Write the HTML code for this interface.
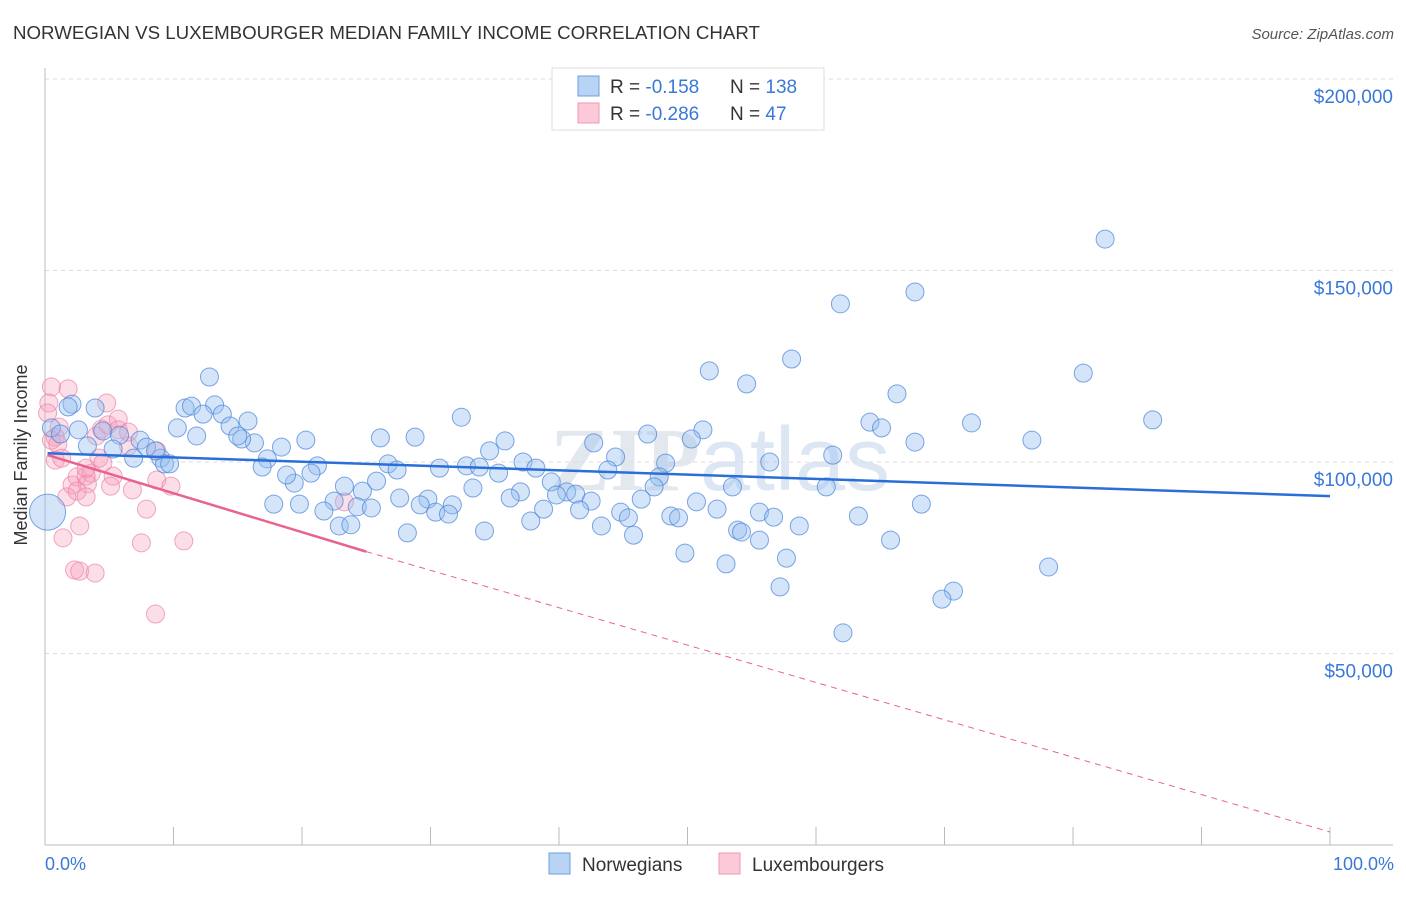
<!DOCTYPE html>
<html><head><meta charset="utf-8"><style>
body{margin:0;background:#fff;font-family:"Liberation Sans",sans-serif;}
</style></head><body>
<svg id="chart" width="1406" height="892" xmlns="http://www.w3.org/2000/svg">
<text x="13" y="39" font-size="18.7" fill="#333">NORWEGIAN VS LUXEMBOURGER MEDIAN FAMILY INCOME CORRELATION CHART</text>
<text x="1394" y="39" font-size="15" fill="#555" font-style="italic" text-anchor="end">Source: ZipAtlas.com</text>
<text x="720" y="490" font-size="90" fill="#e3e8ee" text-anchor="middle" font-weight="bold" font-family="Liberation Serif,serif">ZIP<tspan font-family="Liberation Sans,sans-serif" font-weight="normal" fill="#dde6f3">atlas</tspan></text>
<g id="grid"></g>
<g id="axes"></g>
<g id="pts"></g>
<g id="trend"></g>
<text x="27" y="455" font-size="18" fill="#333" text-anchor="middle" transform="rotate(-90 27 455)">Median Family Income</text>
<text x="45" y="870" font-size="18" fill="#3a78d8">0.0%</text>
<text x="1394" y="870" font-size="18" fill="#3a78d8" text-anchor="end">100.0%</text>
<g>
<rect x="552" y="68" width="272" height="62" fill="#fff" stroke="#ddd"/>
<rect x="578" y="76" width="21" height="20" fill="#b9d3f5" stroke="#6d9fe0"/>
<rect x="578" y="103" width="21" height="20" fill="#fbc9d8" stroke="#ef9ab5"/>
<text x="610" y="93" font-size="19" fill="#333">R = <tspan fill="#3a78d8"> -0.158</tspan><tspan x="730">N = </tspan><tspan fill="#3a78d8">138</tspan></text>
<text x="610" y="120" font-size="19" fill="#333">R = <tspan fill="#3a78d8">-0.286</tspan><tspan x="730">N = </tspan><tspan fill="#3a78d8"> 47</tspan></text>
</g>
<g>
<rect x="549" y="853" width="21" height="21" fill="#b9d3f5" stroke="#6d9fe0"/>
<text x="582" y="871" font-size="19" fill="#333">Norwegians</text>
<rect x="719" y="853" width="21" height="21" fill="#fbc9d8" stroke="#ef9ab5"/>
<text x="752" y="871" font-size="19" fill="#333">Luxembourgers</text>
</g>
</svg>
<script>
const yTicks=[50000,100000,150000,200000];
const yTickLabels=["$50,000","$100,000","$150,000","$200,000"];
const xTicks=[0,10,20,30,40,50,60,70,80,90,100];
const blueX=[82.5,61.9,67.7,58.1,51.7,54.6,80.8,66.3,86.2,72.1,64.2,65.1,67.7,76.8,51.2,46.9,50.3,42.7,32.4,28.8,26.1,20.3,18.4,16.3,15.3,12.8,10.9,11.4,13.2,12.3,13.8,15.8,14.4,10.3,11.8,15.0,3.9,2.1,1.8,0.5,1.2,2.6,4.5,5.8,7.4,7.9,3.3,5.3,6.9,9.0,9.3,9.7,8.6,17.3,16.9,21.2,26.7,27.4,30.7,32.8,33.8,35.3,34.6,35.8,37.2,38.2,44.4,43.8,48.3,47.8,56.4,61.3,60.8,53.5,47.4,46.4,39.4,40.6,41.3,39.8,42.5,37.0,36.2,33.3,31.7,29.8,27.6,25.8,24.7,23.3,22.5,19.4,18.8,20.7,17.8,19.8,21.7,24.3,25.4,22.9,23.8,29.2,30.4,31.4,28.2,34.2,37.8,38.8,41.6,43.3,44.8,45.4,45.8,48.7,49.3,50.7,52.3,53.9,54.2,55.6,56.7,58.7,55.6,49.8,53.0,57.7,57.2,63.3,68.2,65.8,70.7,69.8,62.1,78.1];
const blueY=[158.2,141.3,144.4,126.9,123.8,120.4,123.2,117.8,111.0,110.2,110.4,108.9,105.2,105.7,108.4,107.3,106.0,105.0,111.7,106.5,106.3,105.7,103.9,105.0,106.0,122.2,114.1,114.6,114.9,112.5,112.5,110.7,109.4,108.9,106.8,106.8,114.1,115.1,114.4,108.9,107.3,108.4,108.1,107.0,105.7,103.9,104.2,103.4,101.0,101.0,99.5,99.5,102.9,100.8,98.7,99.0,99.5,97.9,98.4,99.0,98.7,97.1,102.9,105.5,100.0,98.4,101.3,97.9,99.7,96.1,100.0,101.8,93.5,93.5,93.5,90.3,94.8,92.2,91.6,91.4,89.8,92.2,90.6,93.2,88.8,90.3,90.6,95.0,92.4,93.7,89.8,94.5,96.6,97.1,89.0,89.0,87.2,88.3,88.0,83.3,83.6,88.8,86.9,86.4,81.5,82.0,84.6,87.7,87.5,83.3,86.9,85.4,80.9,85.9,85.4,89.6,87.7,82.2,81.7,86.9,85.6,83.3,79.6,76.2,73.4,74.9,67.4,85.9,89.0,79.6,66.3,64.2,55.4,72.6];
const pinkX=[0.5,1.8,0.3,0.2,1.1,0.8,0.5,1.0,0.8,1.3,2.1,2.5,3.6,3.2,3.3,4.0,4.4,4.9,4.8,5.7,5.7,6.5,6.5,4.2,4.5,3.2,5.3,1.7,2.5,3.2,5.1,6.8,8.7,9.8,7.9,2.7,1.4,7.5,10.8,2.3,2.7,3.9,8.6,23.3,8.7];
const pinkY=[119.6,119.1,115.4,112.8,109.1,106.5,105.7,104.7,100.5,101.0,94.0,96.1,97.1,96.3,94.3,106.8,108.6,109.7,115.4,111.2,108.4,107.8,104.2,101.0,99.7,98.4,96.3,90.9,92.4,90.9,93.7,92.7,95.3,93.7,87.7,83.3,80.2,78.9,79.4,71.8,71.5,71.0,60.3,89.6,102.9];
const blueTrend=[102.3,91.1];
const pinkTrend=[101.8,76.6,3.4];
const L=45,R=1330,B=845,T=79;
const xs=p=>L+(R-L)*p/100;
const ys=v=>B-(B-T)*v/200000;
const NS="http://www.w3.org/2000/svg";
function mk(tag,parent,attrs){const e=document.createElementNS(NS,tag);for(const k in attrs)e.setAttribute(k,attrs[k]);parent.appendChild(e);return e;}
const grid=document.getElementById('grid'),axes=document.getElementById('axes'),pts=document.getElementById('pts'),trend=document.getElementById('trend');
yTicks.forEach((v,i)=>{
 const l=mk('line',grid,{x1:L,x2:1393,y1:ys(v),y2:ys(v),stroke:'#ddd','stroke-dasharray':'4,4'});
 
 
 const t=mk('text',axes,{x:1393,y:ys(v)+24,'font-size':19,fill:'#3a78d8','text-anchor':'end'});
 t.textContent=yTickLabels[i];
 
 
});
const ax=mk('line',axes,{x1:L,x2:1393,y1:B,y2:B,stroke:'#bbb'});


const ay=mk('line',axes,{x1:L,x2:L,y1:68,y2:B,stroke:'#bbb'});


xTicks.forEach(p=>{
 const t=mk('line',axes,{x1:xs(p),x2:xs(p),y1:B-18,y2:B,stroke:'#bbb'});
 
 
});
pinkX.forEach((x,i)=>{
 const c=mk('circle',pts,{cx:xs(x),cy:ys(pinkY[i]*1000),r:9,fill:'rgba(245,160,190,0.35)',stroke:'rgba(236,130,165,0.7)','stroke-width':1});
 
 
});
blueX.forEach((x,i)=>{
 const c=mk('circle',pts,{cx:xs(x),cy:ys(blueY[i]*1000),r:9,fill:'rgba(150,190,240,0.4)',stroke:'rgba(70,130,215,0.7)','stroke-width':1});
 
 
});
const big=mk('circle',pts,{cx:xs(0.2),cy:ys(86900),r:18,fill:'rgba(150,190,240,0.4)',stroke:'rgba(70,130,215,0.7)'});


const bl=mk('line',trend,{x1:xs(0.2),y1:ys(blueTrend[0]*1000),x2:xs(100),y2:ys(blueTrend[1]*1000),stroke:'#2a6fd8','stroke-width':2.5});


const pl=mk('line',trend,{x1:xs(0.2),y1:ys(pinkTrend[0]*1000),x2:xs(25),y2:ys(pinkTrend[1]*1000),stroke:'#e8638f','stroke-width':2.5});


const pd=mk('line',trend,{x1:xs(25),y1:ys(pinkTrend[1]*1000),x2:xs(100),y2:ys(pinkTrend[2]*1000),stroke:'#e8638f','stroke-width':1,'stroke-dasharray':'6,5'});


</script>
</body></html>
